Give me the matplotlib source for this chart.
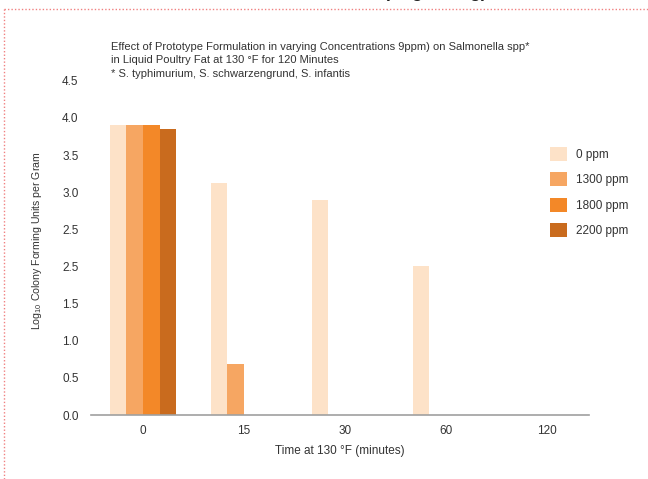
import numpy as np
import matplotlib.pyplot as plt
from matplotlib.lines import Line2D

plt.rcParams['font.family'] = ['Liberation Sans', 'DejaVu Sans']
plt.rcParams['mathtext.fontset'] = 'custom'
plt.rcParams['mathtext.rm'] = 'Liberation Sans'
plt.rcParams['mathtext.default'] = 'rm'

times = ['0', '15', '30', '60', '120']
doses = ['0 ppm', '1300 ppm', '1800 ppm', '2200 ppm']
ppm_0 = [3.90, 3.13, 2.90, 2.01, 0.0]
ppm_1300 = [3.90, 0.69, 0.0, 0.0, 0.0]
ppm_1800 = [3.90, 0.0, 0.0, 0.0, 0.0]
ppm_2200 = [3.85, 0.0, 0.0, 0.0, 0.0]
ytick_vals = [0.0, 0.5, 1.0, 1.5, 2.0, 2.5, 3.0, 3.5, 4.0, 4.5]
ytick_text = ['0.0', '0.5', '1.0', '1.5', '2.5', '2.5', '3.0', '3.5', '4.0', '4.5']

colors = ['#FDE2C8', '#F6A662', '#F38828', '#C96B1E']
txt = '#333333'

fig = plt.figure(figsize=(6.48, 4.79), dpi=100)
ax = fig.add_axes([91/648, 1-415/479, (589-91)/648, 4.5*74.25/479])

x = np.arange(len(times))
w = 0.165
series = [ppm_0, ppm_1300, ppm_1800, ppm_2200]
for i, vals in enumerate(series):
    ax.bar(x + (i-1.5)*w, vals, width=w, color=colors[i], label=doses[i], linewidth=0)

ax.set_xlim(-0.515, 4.416)
ax.set_ylim(0, 4.5)
ax.set_xticks(x)
ax.set_xticklabels(times)
ax.set_yticks(ytick_vals)
ax.set_yticklabels(ytick_text)
ax.tick_params(length=0, labelsize=8.5, labelcolor=txt)
ax.tick_params(axis='y', pad=9)
ax.tick_params(axis='x', pad=7)
for s in ['top', 'right', 'left']:
    ax.spines[s].set_visible(False)
ax.spines['bottom'].set_color('#A0A0A0')
ax.spines['bottom'].set_linewidth(1.2)

ax.set_xlabel('Time at 130 \u00b0F (minutes)', fontsize=8.5, color=txt, labelpad=6)
fig.text(37/648, 1-241/479, r'Log$_{10}$ Colony Forming Units per Gram', rotation=90,
         ha='center', va='center', fontsize=7.6, color=txt)

fig.text(111/648, 1-42/479,
         'Effect of Prototype Formulation in varying Concentrations 9ppm) on Salmonella spp*\n'
         'in Liquid Poultry Fat at 130 \u00b0F for 120 Minutes\n'
         '* S. typhimurium, S. schwarzengrund, S. infantis',
         ha='left', va='top', fontsize=8, color=txt, linespacing=1.42)

ax.legend(loc='upper left', bbox_to_anchor=(550/648, 1-147/479), bbox_transform=fig.transFigure,
          frameon=False, fontsize=8.5, handlelength=1.45, handleheight=1.45,
          handletextpad=0.75, labelspacing=0.97, borderpad=0, borderaxespad=0,
          labelcolor=txt)

# dotted frame and cut-off heading
fig.add_artist(Line2D([4/648, 1], [1-9/479, 1-9/479], transform=fig.transFigure,
                      color='#F08080', lw=1, linestyle=(0, (1, 1.5))))
fig.add_artist(Line2D([4/648, 4/648], [0, 1-9/479], transform=fig.transFigure,
                      color='#F08080', lw=1, linestyle=(0, (1, 1.5))))
fig.text(487/648, 1+3/479, '(Log CFU/g)', ha='right', va='baseline',
         fontsize=13, fontweight='bold', color='#222222')

fig.savefig('out.png', dpi=100)
